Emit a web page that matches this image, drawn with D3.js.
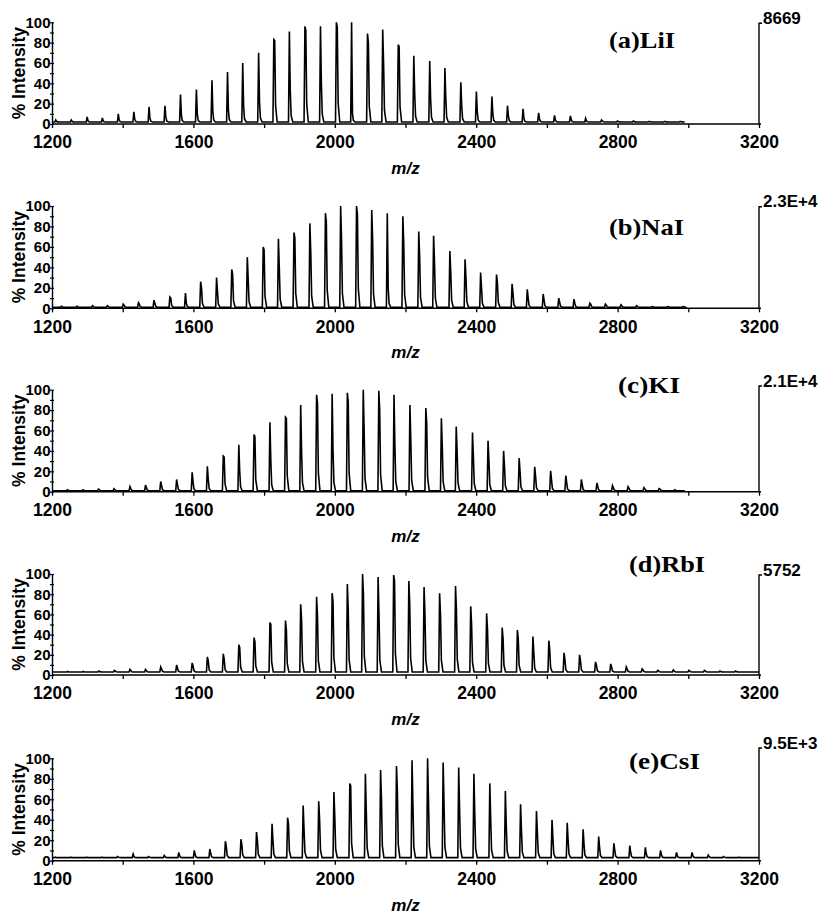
<!DOCTYPE html>
<html lang="en">
<head>
<meta charset="utf-8">
<title>MALDI spectra, PEG with alkali iodides</title>
<script src="https://d3js.org/d3.v7.min.js"></script>
<style>
  body { margin: 0; background: #fff; }
  text { font-family: "Liberation Sans", Arial, sans-serif; font-weight: bold; fill: #000; }
  .tag { font-family: "Liberation Serif", "Times New Roman", serif; font-size: 24px; }
</style>
</head>
<body>
<script>
// salts, one panel each
var salts = ["(a)LiI", "(b)NaI", "(c)KI", "(d)RbI", "(e)CsI"];
// absolute intensity of the 100% peak (right axis label)
var fullScale = ["8669", "2.3E+4", "2.1E+4", "5752", "9.5E+3"];
// baseline level (%) and last m/z of the scan
var baseLevel = [2, 1, 1, 3, 3];
var scanEnd = [2990, 2990, 2990, 3200, 3200];

// x axis ticks
var xTicks = [1200, 1400, 1600, 1800, 2000, 2200, 2400, 2600, 2800, 3000, 3200];
var xTickLabels = [1200, 1600, 2000, 2400, 2800, 3200];
var yTicks = [0, 10, 20, 30, 40, 50, 60, 70, 80, 90, 100];
var yTickLabels = [0, 20, 40, 60, 80, 100];

// (a) LiI
var mzLi = [1211, 1255, 1300, 1343, 1388, 1432, 1475, 1520, 1564, 1609, 1653, 1697, 1740, 1785, 1828, 1872, 1916, 1960, 2005, 2048,
            2093, 2136, 2180, 2224, 2269, 2312, 2357, 2401, 2445, 2489, 2533, 2577, 2622, 2667, 2710, 2755, 2800, 2845, 2889, 2933, 2977];
var intLi = [4, 4, 7, 6, 10, 12, 17, 18, 29, 34, 43, 51, 60, 70, 83, 91, 96, 96, 100, 100,
             89, 93, 78, 67, 62, 55, 41, 32, 27, 18, 15, 11, 8.5, 8, 5.5, 4, 3, 3, 2.5, 2.5, 2.5];
var subLi = [2.5, 2.5, 3, 3, 4, 5, 6, 7, 9, 10, 12, 14, 18, 22, 82, 33, 92, 40, 95, 10,
             80, 60, 76, 30, 25, 25, 18, 12, 10, 8, 6, 5, 4, 4, 3, 3, 2.5, 2.5, 2.5, 2.5, 2.5];

// (b) NaI
var mzNa = [1227, 1271, 1315, 1357, 1402, 1445, 1489, 1534, 1578, 1621, 1666, 1709, 1753, 1798, 1841, 1885, 1930, 1974, 2017, 2062,
            2105, 2149, 2193, 2238, 2280, 2326, 2369, 2413, 2458, 2502, 2545, 2590, 2634, 2677, 2722, 2766, 2810, 2854, 2898, 2942, 2986];
var intNa = [2, 2, 2.6, 2.6, 4, 5.5, 8, 11, 15, 26, 30, 38, 50, 60, 68, 74, 83, 93, 100, 100,
             96, 93, 90, 75, 71, 56, 48, 35, 33, 24, 18.5, 14, 10, 9, 5, 4, 3.5, 2.6, 1.6, 1.6, 1.6];
var subNa = [1.5, 1.5, 2, 2, 3, 4, 5, 10, 5, 20, 17, 33, 28, 57, 39, 69, 55, 85, 68, 92,
             67, 20, 64, 50, 45, 35, 30, 20, 25, 15, 10, 8, 6, 5, 4, 3, 2.5, 2, 1.5, 1.5, 1.5];

// (c) KI
var mzK = [1244, 1288, 1332, 1376, 1421, 1465, 1508, 1553, 1597, 1640, 1685, 1729, 1772, 1817, 1861, 1904, 1949, 1993, 2036, 2081,
           2125, 2168, 2213, 2258, 2302, 2344, 2390, 2434, 2478, 2522, 2566, 2611, 2654, 2698, 2742, 2786, 2830, 2875, 2918, 2962];
var intK = [2, 2, 2.5, 3, 5, 6.5, 10, 12, 19, 25, 35, 46, 56, 68, 73, 85, 95, 96, 97, 100,
            99, 95, 85, 82, 72, 64, 58, 50, 40, 33, 24.5, 20.5, 15.7, 12, 8.5, 6, 5, 4, 3, 2];
var subK = [1.5, 1.5, 2, 2, 3, 4, 6, 7, 10, 12, 34, 20, 54, 30, 72, 40, 87, 40, 88, 60,
            80, 45, 50, 67, 45, 40, 35, 30, 25, 20, 15, 12, 9, 7, 5, 4, 3.5, 3, 2.5, 1.5];

// (d) RbI
var mzRb = [1245, 1289, 1333, 1377, 1421, 1465, 1508, 1553, 1597, 1640, 1685, 1729, 1772, 1817, 1861, 1904, 1949, 1993, 2036, 2079,
            2123, 2167, 2210, 2253, 2297, 2342, 2385, 2430, 2474, 2517, 2561, 2606, 2649, 2693, 2738, 2781, 2825, 2870, 2914, 2958,
            3002, 3046, 3090, 3134];
var intRb = [3.5, 3.5, 4, 4.5, 5.6, 5.6, 8, 10, 12, 18, 21, 30, 37, 52, 54, 70, 77.5, 81, 90, 100,
             97, 99, 93, 87, 81, 88, 68, 61, 47, 44.5, 38, 34, 22, 20, 13, 11, 8, 6, 4.6, 5,
             4.6, 4.6, 4, 4];
var subRb = [3, 3, 3.5, 4, 4.5, 4.5, 6, 7, 9, 14, 16, 27, 33, 50, 45, 55, 58, 72, 64, 80,
             60, 93, 70, 60, 60, 65, 50, 45, 36, 35, 22, 25, 15, 14, 10, 8, 6, 5, 4, 4,
             4, 4, 3.5, 3.5];

// (e) CsI
var mzCs = [1210, 1254, 1298, 1342, 1386, 1430, 1474, 1518, 1559, 1603, 1647, 1691, 1735, 1779, 1823, 1867, 1911, 1955, 1998, 2043,
            2087, 2130, 2175, 2219, 2263, 2307, 2351, 2394, 2439, 2483, 2526, 2571, 2615, 2658, 2703, 2747, 2790, 2835, 2879, 2922,
            2967, 3011, 3057, 3100, 3144];
var intCs = [3.5, 3.5, 3.5, 3.5, 4, 6.5, 4, 5, 8, 10, 11.4, 19, 21, 28, 36, 42, 54, 58, 67, 75.5,
             85, 88.6, 92.5, 98, 100, 96, 91, 85, 75.5, 68, 55, 48.5, 40, 37, 30.6, 23.5, 17, 14.7, 13, 10,
             8, 8, 5.5, 4, 3.5];
var subCs = [3, 3, 3, 3, 3.5, 4, 3.5, 4, 5, 6, 7, 14, 16, 20, 20, 36, 30, 40, 43, 73,
             50, 60, 68, 55, 60, 55, 50, 45, 40, 35, 30, 28, 22, 20, 16, 13, 10, 8, 7, 6,
             5, 5, 4, 3.5, 3];

var peakMz = [mzLi, mzNa, mzK, mzRb, mzCs];
var peakInt = [intLi, intNa, intK, intRb, intCs];
var peakSub = [subLi, subNa, subK, subRb, subCs];

// layout
var w = 825, h = 915;
var axisY0 = [124, 308.3, 491.7, 675, 860.7];     // y of 0 %
var axisY100 = [22.3, 206, 389.7, 574, 758.3];    // y of 100 %
var rightTop = [23.3, 206.7, 386, 575, 748];
var tagPos = [[609, 48], [609, 235], [618, 393], [629, 572], [629, 769]];
var tagWidth = [66, 75, 62, 76, 71];

var svg = d3.select("body").append("svg")
    .attr("width", w)
    .attr("height", h);

var x = d3.scaleLinear().domain([1200, 3200]).range([52, 759]);

var line = d3.line();

salts.forEach(function (salt, i) {
    var y = d3.scaleLinear().domain([0, 100]).range([axisY0[i], axisY100[i]]);
    var g = svg.append("g");
    var base = baseLevel[i];

    // spectrum trace built from the peak list
    var pts = [[1203, base]];
    peakMz[i].forEach(function (mz, k) {
        var top = peakInt[i][k], sub = Math.max(peakSub[i][k], base);
        pts.push([mz - 3, base], [mz - 0.5, top], [mz + 2, sub],
                 [mz + 4.5, base + (sub - base) * 0.2], [mz + 9, base]);
    });
    pts.push([scanEnd[i], base]);

    g.append("path")
        .attr("d", line.x(function (d) { return x(d[0]); })
                       .y(function (d) { return y(d[1]); })(pts))
        .attr("fill", "none")
        .attr("stroke", "#000")
        .attr("stroke-width", 1.6)
        .attr("stroke-linejoin", "miter");

    // x axis
    var xa = g.append("g")
        .attr("transform", "translate(0," + axisY0[i] + ")")
        .call(d3.axisBottom(x)
            .tickValues(xTicks)
            .tickSizeInner(4)
            .tickSizeOuter(0)
            .tickPadding(8)
            .tickFormat(function (d) { return xTickLabels.indexOf(d) >= 0 ? d : ""; }));
    xa.selectAll("text").style("font-size", "17.5px").attr("fill", "#000");
    xa.select(".domain").attr("stroke-width", 1.4).attr("d", "M52,0H761");
    xa.selectAll(".tick line").attr("stroke-width", 1.3);
    xa.attr("font-family", null).attr("font-size", null);

    // y axis
    var ya = g.append("g")
        .attr("transform", "translate(" + x(1200) + ",0)")
        .call(d3.axisLeft(y)
            .tickValues(yTicks)
            .tickSizeInner(2)
            .tickSizeOuter(0)
            .tickPadding(0)
            .tickFormat(function (d) { return yTickLabels.indexOf(d) >= 0 ? d : ""; }));
    ya.selectAll(".tick line").attr("x1", 2).attr("stroke-width", 1.2);
    ya.selectAll("text").style("font-size", "15px").attr("x", -1.5).attr("fill", "#000");
    ya.select(".domain").attr("stroke-width", 1.4);
    ya.attr("font-family", null).attr("font-size", null);

    // right axis with the full-scale count
    g.append("path")
        .attr("d", "M762," + rightTop[i] + "H759V" + axisY0[i])
        .attr("fill", "none")
        .attr("stroke", "#000")
        .attr("stroke-width", 1.4);
    g.append("text")
        .attr("x", 763)
        .attr("y", rightTop[i] + 0.5)
        .style("font-size", "17px")
        .text(fullScale[i]);

    // axis titles
    g.append("text")
        .attr("transform", "translate(25," + (axisY0[i] + axisY100[i]) / 2 + ") rotate(-90)")
        .attr("text-anchor", "middle")
        .style("font-size", "17.5px")
        .text("% Intensity");
    g.append("text")
        .attr("x", (x(1200) + x(3200)) / 2)
        .attr("y", axisY0[i] + 50)
        .attr("text-anchor", "middle")
        .style("font-size", "17px")
        .style("font-style", "italic")
        .text("m/z");

    // salt tag
    g.append("text")
        .attr("class", "tag")
        .attr("x", tagPos[i][0])
        .attr("y", tagPos[i][1])
        .attr("textLength", tagWidth[i])
        .attr("lengthAdjust", "spacingAndGlyphs")
        .text(salt);
});
</script>
</body>
</html>
